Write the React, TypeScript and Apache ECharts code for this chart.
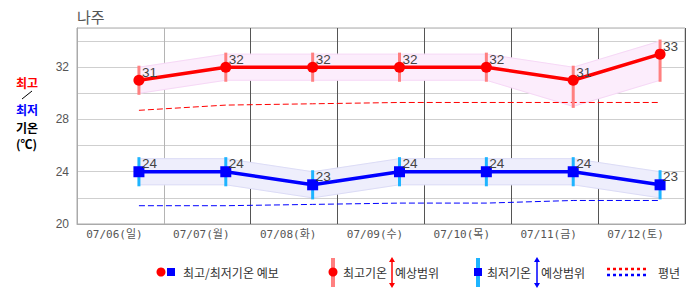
import React, { useEffect, useRef } from "react";
import * as echarts from "echarts";

const chartTitle = "나주";
const categories = ["07/06(일)", "07/07(월)", "07/08(화)", "07/09(수)", "07/10(목)", "07/11(금)", "07/12(토)"];
const maxTemps = [31, 32, 32, 32, 32, 31, 33];
const maxLow = [30, 31, 31, 31, 31, 29, 31];
const maxHigh = [32, 33, 33, 33, 33, 32, 34];
const minTemps = [24, 24, 23, 24, 24, 24, 23];
const minLow = [23, 23, 22, 23, 23, 23, 22];
const minHigh = [25, 25, 24, 25, 25, 25, 24];
const normalMax = [28.7, 29.1, 29.2, 29.3, 29.3, 29.3, 29.3];
const normalMin = [21.4, 21.4, 21.5, 21.6, 21.6, 21.8, 21.8];
const yLabelStep = 4;

// layout: position of each point inside its day band
const POS = 0.713;

const FONT = "'DejaVu Sans Mono', 'Noto Sans CJK KR', sans-serif";
const SFONT = "'Liberation Sans', 'Noto Sans CJK KR', sans-serif";
const KFONT = "'Noto Sans CJK KR', sans-serif";

function pts(vals: number[]) {
  return vals.map((v, i) => [i + POS, v]);
}

function bandSeries(lows: number[], highs: number[], fill: string, edge: string) {
  return {
    type: "custom",
    z: 1,
    silent: true,
    encode: { x: 0, y: [1, 2] },
    data: lows.map((l, i) => [i + POS, l, highs[i]]),
    renderItem: (params: any, api: any) => {
      const i = params.dataIndex;
      if (i >= lows.length - 1) return { type: "group", children: [] };
      const x0 = i + POS;
      const x1 = i + 1 + POS;
      const a = api.coord([x0, highs[i]]);
      const b = api.coord([x1, highs[i + 1]]);
      const c = api.coord([x1, lows[i + 1]]);
      const d = api.coord([x0, lows[i]]);
      return {
        type: "group",
        children: [
          { type: "polygon", shape: { points: [a, b, c, d] }, style: { fill, stroke: fill, lineWidth: 0.5 } },
          { type: "line", shape: { x1: a[0], y1: a[1], x2: b[0], y2: b[1] }, style: { stroke: edge, lineWidth: 1 } },
          { type: "line", shape: { x1: d[0], y1: d[1], x2: c[0], y2: c[1] }, style: { stroke: edge, lineWidth: 1 } },
        ],
      };
    },
  };
}

function rangeBars(lows: number[], highs: number[], color: string) {
  return {
    type: "custom",
    z: 3,
    silent: true,
    encode: { x: 0, y: [1, 2] },
    data: lows.map((l, i) => [i + POS, l, highs[i]]),
    renderItem: (_params: any, api: any) => {
      const p0 = api.coord([api.value(0), api.value(1)]);
      const p1 = api.coord([api.value(0), api.value(2)]);
      return {
        type: "line",
        shape: { x1: p0[0], y1: p0[1] + 1.5, x2: p1[0], y2: p1[1] - 1.5 },
        style: { stroke: color, lineWidth: 3 },
      };
    },
  };
}

function normalLine(vals: number[], color: string) {
  return {
    type: "line",
    z: 2,
    data: pts(vals),
    symbol: "none",
    silent: true,
    lineStyle: { color, width: 1, type: [6, 3] },
  };
}

function mainLine(vals: number[], color: string, symbol: string) {
  return {
    type: "line",
    z: 5,
    data: pts(vals),
    symbol,
    symbolSize: 11,
    silent: true,
    itemStyle: { color },
    lineStyle: { color, width: 3.5 },
    label: {
      show: true,
      position: "right",
      distance: -2.5,
      offset: [0, -8],
      color: "#444",
      fontSize: 13.5,
      fontFamily: SFONT,
      formatter: (p: any) => String(p.value[1]),
    },
  };
}

function arrow(x: number, y0: number, y1: number, color: string) {
  return [
    { type: "line", shape: { x1: x, y1: y0 + 3, x2: x, y2: y1 - 3 }, style: { stroke: color, lineWidth: 1.5 } },
    { type: "polygon", shape: { points: [[x, y0], [x - 3, y0 + 5], [x + 3, y0 + 5]] }, style: { fill: color } },
    { type: "polygon", shape: { points: [[x, y1], [x - 3, y1 - 5], [x + 3, y1 - 5]] }, style: { fill: color } },
  ];
}

function legendText(text: string, x: number, y: number) {
  return { type: "text", style: { text, x, y, fill: "#333", font: `12px ${KFONT}`, verticalAlign: "middle" } };
}

function sideText(text: string, y: number, fill: string) {
  return {
    type: "text",
    style: { text, x: 16, y, fill, font: `bold 12px ${KFONT}`, verticalAlign: "middle", lineHeight: 13 },
  };
}

export default function App() {
  const ref = useRef<HTMLDivElement>(null);
  useEffect(() => {
    if (!ref.current) return;
    const chart = echarts.init(ref.current, undefined, { renderer: "svg" });
    const ly = 272;
    chart.setOption({
      animation: false,
      backgroundColor: "#fff",
      grid: { left: 77, right: 1, top: 28, bottom: 71, show: true, borderColor: "#aaa", borderWidth: 1 },
      xAxis: [
        {
          type: "value",
          min: 0,
          max: categories.length,
          interval: 1,
          axisLabel: { show: false },
          axisTick: { show: false },
          axisLine: { show: true, lineStyle: { color: "#aaa" } },
          splitLine: {
            show: true,
            showMinLine: false,
            showMaxLine: true,
            lineStyle: { color: ["#b4b4b4", "#555", "#555", "#555", "#555", "#555", "#555"], width: 1 },
          },
        },
        {
          type: "category",
          position: "bottom",
          data: categories,
          boundaryGap: true,
          axisLine: { show: false },
          axisTick: { show: false },
          splitLine: { show: false },
          axisLabel: { color: "#555", fontSize: 11, fontFamily: FONT, margin: 5, padding: [0, 12, 0, 0] },
        },
      ],
      yAxis: {
        type: "value",
        min: 20,
        max: 35,
        interval: 2,
        axisLine: { show: true, lineStyle: { color: "#aaa" } },
        axisTick: { show: false },
        splitLine: { show: true, lineStyle: { color: "#cfcfcf" } },
        axisLabel: {
          color: "#555",
          fontSize: 12,
          fontFamily: SFONT,
          margin: 8,
          formatter: (v: number) => (v % yLabelStep === 0 ? String(v) : ""),
        },
      },
      series: [
        bandSeries(maxLow, maxHigh, "#fcedfc", "#f6d8f6"),
        bandSeries(minLow, minHigh, "#eeeefc", "#dcdcf6"),
        normalLine(normalMax, "#ff0000"),
        normalLine(normalMin, "#0000ff"),
        rangeBars(maxLow, maxHigh, "#ff8080"),
        rangeBars(minLow, minHigh, "#1eb4ff"),
        mainLine(maxTemps, "#ff0000", "circle"),
        mainLine(minTemps, "#0000ff", "rect"),
      ],
      graphic: [
        { type: "text", style: { text: chartTitle, x: 77, y: 16, fill: "#555", font: `15px ${KFONT}`, verticalAlign: "middle" } },
        sideText("최고", 82, "#ff0000"),
        { type: "line", shape: { x1: 22, y1: 99, x2: 32, y2: 91 }, style: { stroke: "#000", lineWidth: 1 } },
        sideText("최저", 109, "#0000ff"),
        sideText("기온", 127, "#000"),
        sideText("(℃)", 143, "#000"),
        // legend 1
        { type: "circle", shape: { cx: 161, cy: ly, r: 4.5 }, style: { fill: "#ff0000" } },
        { type: "rect", shape: { x: 167, y: ly - 4, width: 8, height: 8 }, style: { fill: "#0000ff" } },
        legendText("최고/최저기온 예보", 183, ly),
        // legend 2
        { type: "rect", shape: { x: 331, y: 258, width: 4, height: 29 }, style: { fill: "#ff8080" } },
        { type: "circle", shape: { cx: 333, cy: ly, r: 4.5 }, style: { fill: "#ff0000" } },
        legendText("최고기온", 343, ly),
        ...arrow(392, 257, 288, "#ff0000"),
        legendText("예상범위", 395, ly),
        // legend 3
        { type: "rect", shape: { x: 476, y: 258, width: 4, height: 29 }, style: { fill: "#1eb4ff" } },
        { type: "rect", shape: { x: 474, y: ly - 4, width: 8, height: 8 }, style: { fill: "#0000ff" } },
        legendText("최저기온", 487, ly),
        ...arrow(537, 257, 288, "#0000ff"),
        legendText("예상범위", 541, ly),
        // legend 4
        { type: "line", shape: { x1: 607, y1: 269, x2: 648, y2: 269 }, style: { stroke: "#ff0000", lineWidth: 2.5, lineDash: [3, 3] } },
        { type: "line", shape: { x1: 607, y1: 275, x2: 648, y2: 275 }, style: { stroke: "#0000ff", lineWidth: 2.5, lineDash: [3, 3] } },
        legendText("평년", 658, ly),
      ],
    });
    return () => chart.dispose();
  }, []);
  return <div ref={ref} style={{ width: 686, height: 295, position: "absolute", left: 0, top: 0 }} />;
}
